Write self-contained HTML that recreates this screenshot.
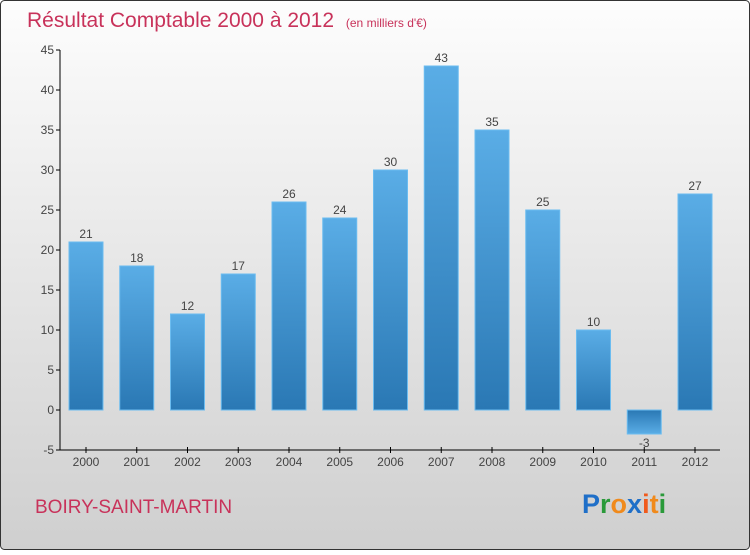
<!DOCTYPE html>
<html><head><meta charset="utf-8"><style>
body{margin:0;width:750px;height:550px;overflow:hidden;font-family:"Liberation Sans",sans-serif}
</style></head><body>
<svg width="750" height="550" xmlns="http://www.w3.org/2000/svg">
<defs>
<linearGradient id="bg" x1="0" y1="0" x2="0" y2="1"><stop offset="0" stop-color="#fdfdfd"/><stop offset="1" stop-color="#cfcfcf"/></linearGradient>
<linearGradient id="bp" x1="0" y1="0" x2="0" y2="1"><stop offset="0" stop-color="#5aade6"/><stop offset="1" stop-color="#2a78b4"/></linearGradient>
<linearGradient id="bn" x1="0" y1="0" x2="0" y2="1"><stop offset="0" stop-color="#2a78b4"/><stop offset="1" stop-color="#5aade6"/></linearGradient>
</defs>
<rect x="0.5" y="0.5" width="749" height="549" rx="4" fill="url(#bg)" stroke="#333"/>
<text x="27" y="27" font-size="21" fill="#c8325a">Résultat Comptable 2000 à 2012 <tspan font-size="12" dx="6">(en milliers d'€)</tspan></text>
<g id="plot"></g>
<text x="35" y="513" font-size="19" fill="#c8325a">BOIRY-SAINT-MARTIN</text>
<text x="582" y="513" font-size="27" font-weight="bold"><tspan fill="#1f6fc8">P</tspan><tspan fill="#2a9a3a">r</tspan><tspan fill="#f08a1c">o</tspan><tspan fill="#1f6fc8">x</tspan><tspan fill="#f05a1c">i</tspan><tspan fill="#f08a1c">t</tspan><tspan fill="#2a9a3a">i</tspan></text>
</svg>
<script>
const years=["2000","2001","2002","2003","2004","2005","2006","2007","2008","2009","2010","2011","2012"];
const values=[21,18,12,17,26,24,30,43,35,25,10,-3,27];
const yTicks=[-5,0,5,10,15,20,25,30,35,40,45];
const ns="http://www.w3.org/2000/svg";
const g=document.getElementById('plot');
const y=v=>410-v*8;
const x=i=>86+i*50.75;
function mk(t,a,p){const e=document.createElementNS(ns,t);for(const k in a)e.setAttribute(k,a[k]);(p||g).appendChild(e);return e;}
let ax=mk('line',{x1:60,y1:y(45),x2:60,y2:y(-5),stroke:'#000'});

let xx=mk('line',{x1:60,y1:450,x2:720,y2:450,stroke:'#000'});

yTicks.forEach(v=>{
 mk('line',{x1:56,x2:60,y1:y(v),y2:y(v),stroke:'#000'});
 const t=mk('text',{x:54,y:y(v)+4,'text-anchor':'end','font-size':12,fill:'#444'});t.textContent=v;
 
});
years.forEach((yr,i)=>{
 const v=values[i],cx=x(i);
 const top=v>=0?y(v):y(0),h=Math.abs(y(v)-y(0));
 const r=mk('rect',{x:cx-17,y:top,width:34,height:h,fill:v>=0?'url(#bp)':'url(#bn)',stroke:'#6bbcf0','stroke-width':1});
 
 const l=mk('text',{x:cx,y:v>=0?y(v)-4:y(v)+13,'text-anchor':'middle','font-size':12,fill:'#444'});l.textContent=v;
 
 mk('line',{x1:cx,x2:cx,y1:447,y2:453,stroke:'#000'});
 const t=mk('text',{x:cx,y:466,'text-anchor':'middle','font-size':12,fill:'#444'});t.textContent=yr;
 
});
</script>
</body></html>
